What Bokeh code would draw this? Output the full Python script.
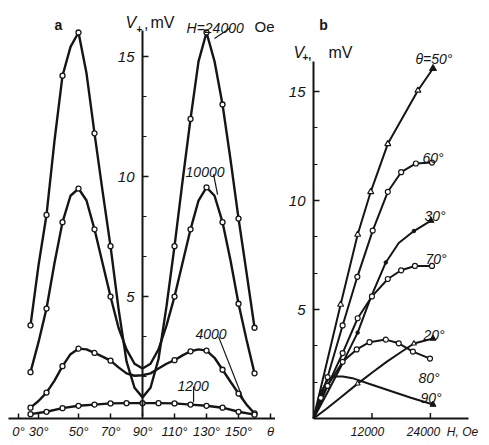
from bokeh.plotting import figure
from bokeh.models import LinearAxis, FixedTicker, Range1d, Label, AllLabels
from bokeh.layouts import row
from bokeh.embed import file_html
from bokeh.resources import INLINE

FONT = "Liberation Sans"
INK = "#151515"

# ---------------- panel a : V+ versus angle theta ----------------
theta_a = [20, 25, 30, 35, 40, 45, 50, 55, 60, 65, 70, 75, 80, 85, 90,
           95, 100, 105, 110, 115, 120, 125, 130, 135, 140, 145, 150, 155, 160]
v_24000 = [3.8, 6.3, 8.4, 11.5, 14.2, 15.4, 16.0, 14.3, 11.8, 9.4, 7.1, 4.5, 2.3, 1.2, 0.8,
           1.2, 2.4, 4.6, 7.1, 9.8, 12.4, 14.8, 16.0, 14.8, 13.0, 10.7, 8.25, 6.0, 3.7]
v_10000 = [1.85, 3.1, 4.5, 6.4, 8.1, 9.2, 9.5, 9.0, 7.8, 6.4, 5.0, 3.7, 2.8, 2.2, 2.0,
           2.2, 2.8, 3.8, 5.0, 6.4, 7.8, 9.0, 9.55, 9.2, 8.1, 6.5, 4.7, 3.2, 1.8]
v_4000 = [0.37, 0.65, 1.0, 1.5, 2.1, 2.6, 2.83, 2.8, 2.65, 2.5, 2.33, 2.05, 1.8, 1.7, 1.72,
          1.8, 2.0, 2.2, 2.35, 2.55, 2.72, 2.8, 2.75, 2.45, 1.95, 1.45, 0.96, 0.5, 0.13]
theta_1200 = [20, 30, 40, 50, 60, 70, 80, 90, 100, 110, 120, 130, 140, 150, 160]
v_1200 = [0.1, 0.2, 0.35, 0.45, 0.5, 0.55, 0.56, 0.56, 0.56, 0.55, 0.5, 0.45, 0.37, 0.2, 0.08]
theta_marks = [20, 30, 40, 50, 60, 70, 110, 120, 130, 140, 150, 160]

a_tick_values = [12.5, 25, 50, 70, 90, 110, 130, 150, 170]
a_tick_labels = ["0°", "30°", "50°", "70°", "90°", "110°", "130°", "150°", "θ"]
v_major_ticks = [5, 10, 15]
v_minor_ticks = [5 / 3 * k for k in range(1, 10)]

# ---------------- panel b : V+ versus field H ----------------
h_50 = [0, 5570, 9070, 11750, 15260, 21440, 24540]
v_50 = [0, 5.23, 8.44, 10.4, 12.6, 15.05, 16.06]
h_60 = [0, 2890, 5980, 9000, 12160, 15260, 18000, 21030, 24330]
v_60 = [0, 1.9, 4.27, 6.5, 8.62, 10.4, 11.3, 11.7, 11.74]
h_30 = [0, 3000, 6000, 9070, 11750, 14850, 17500, 20620, 24120]
v_30 = [0, 1.25, 2.55, 3.94, 5.55, 7.16, 8.05, 8.6, 9.08]
h_70 = [0, 2890, 5980, 9070, 12000, 15260, 18000, 20830, 24330]
v_70 = [0, 1.5, 3.0, 4.6, 5.6, 6.4, 6.8, 7.0, 7.0]
h_20 = [0, 2680, 5500, 9070, 12000, 15000, 18000, 20620, 24540]
v_20 = [0, 0.45, 0.95, 1.6, 2.1, 2.6, 3.05, 3.44, 3.67]
h_80 = [0, 1500, 2890, 5980, 8870, 11500, 14850, 17500, 20410, 23920]
v_80 = [0, 0.95, 1.5, 2.6, 3.17, 3.5, 3.62, 3.45, 3.07, 2.75]
h_90 = [0, 1500, 3000, 4500, 6000, 8000, 12000, 16000, 20000, 24540]
v_90 = [0, 1.2, 1.8, 1.93, 1.93, 1.85, 1.55, 1.25, 0.95, 0.64]

b_tick_values = [12000, 24000]
b_label_values = [11090, 22590, 30600]
b_label_texts = ["12000", "24000", "H, Oe"]


def label(p, x, y, text, size=14, style="italic", align="left"):
    p.add_layout(Label(x=x, y=y, text=text, text_font=FONT,
                       text_font_size=f"{size}px", text_font_style=style,
                       text_align=align, text_baseline="alphabetic",
                       text_color=INK))


def style_axis(ax, size="13px"):
    ax.axis_line_color = INK
    ax.axis_line_width = 2
    ax.major_tick_in = 5
    ax.major_tick_out = 0
    ax.minor_tick_in = 4
    ax.minor_tick_out = 0
    ax.major_tick_line_color = INK
    ax.minor_tick_line_color = INK
    ax.major_tick_line_width = 1.5
    ax.major_label_text_font = FONT
    ax.major_label_text_font_style = "italic"
    ax.major_label_text_font_size = size
    ax.major_label_text_color = INK
    ax.major_label_policy = AllLabels()


# ======================= figure a =======================
pa = figure(frame_width=267, frame_height=410,
            x_range=Range1d(6.25, 173.1), y_range=Range1d(-0.08, 17.0),
            output_backend="svg", toolbar_location=None,
            y_axis_location=None, min_border=0, min_border_left=8,
            min_border_top=8, outline_line_color=None)
pa.grid.visible = False

xa = pa.xaxis[0]
xa.ticker = FixedTicker(ticks=a_tick_values, minor_ticks=[])
xa.major_label_overrides = {v: t for v, t in zip(a_tick_values, a_tick_labels)}
xa.major_label_standoff = 5
style_axis(xa)

ya = LinearAxis(fixed_location=90,
                ticker=FixedTicker(ticks=v_major_ticks, minor_ticks=v_minor_ticks),
                bounds=(0, 16.1), major_label_standoff=8)
style_axis(ya, "15px")
ya.major_tick_in = 6
pa.add_layout(ya, "left")

for vs in (v_24000, v_10000, v_4000):
    pa.line(theta_a, vs, line_color=INK, line_width=2.4)
    mx = [t for t in theta_a if t in theta_marks]
    my = [v for t, v in zip(theta_a, vs) if t in theta_marks]
    pa.scatter(mx, my, marker="circle", size=5, line_color=INK,
               fill_color="white", line_width=1.3)
pa.line(theta_1200, v_1200, line_color=INK, line_width=2.4)
pa.scatter(theta_1200, v_1200, marker="circle", size=5, line_color=INK,
           fill_color="white", line_width=1.3)

# leader lines for the curve labels
pa.line([145, 135], [16.2, 15.75], line_color=INK, line_width=1.2)
pa.line([134.4, 136.9], [10.1, 9.25], line_color=INK, line_width=1.2)
pa.line([137.5, 153], [3.33, 0.7], line_color=INK, line_width=1.2)
pa.line([121.9, 121.9], [1.25, 0.6], line_color=INK, line_width=1.2)

label(pa, 37.5, 16.3, "a", 14, "bold", "center")
label(pa, 79.4, 16.4, "V", 16, "italic")
label(pa, 86.3, 16.15, "+", 10, "bold")
label(pa, 91.0, 16.4, ",", 16, "normal")
label(pa, 95.0, 16.4, "mV", 16, "normal")
label(pa, 117.5, 16.17, "H=24000", 14)
label(pa, 160, 16.25, "Oe", 15, "normal")
label(pa, 116.9, 10.17, "10000", 14)
label(pa, 123.1, 3.46, "4000", 14)
label(pa, 111.9, 1.29, "1200", 14)

# ======================= figure b =======================
pb = figure(frame_width=206, frame_height=410,
            x_range=Range1d(-7803, 34497), y_range=Range1d(0, 18.81),
            output_backend="svg", toolbar_location=None,
            y_axis_location=None, min_border=0, min_border_top=8,
            outline_line_color=None)
pb.grid.visible = False

xb = pb.xaxis[0]
xb.ticker = FixedTicker(ticks=b_label_values, minor_ticks=[])
xb.major_label_overrides = {v: t for v, t in zip(b_label_values, b_label_texts)}
xb.major_label_standoff = 6
xb.bounds = (0, 31900)
style_axis(xb, "12px")
xb.major_tick_line_color = None

# tick marks of the H axis (pointing into the plot)
pb.segment(x0=b_tick_values, y0=[0] * len(b_tick_values),
           x1=b_tick_values, y1=[0.25] * len(b_tick_values),
           line_color=INK, line_width=1.5)

yb = LinearAxis(fixed_location=0,
                ticker=FixedTicker(ticks=v_major_ticks, minor_ticks=v_minor_ticks),
                bounds=(0, 16.4), major_label_standoff=8)
style_axis(yb, "15px")
yb.major_tick_in = 6
pb.add_layout(yb, "left")

curves_b = [(h_50, v_50), (h_60, v_60), (h_30, v_30), (h_70, v_70),
            (h_20, v_20), (h_80, v_80), (h_90, v_90)]
for hs, vs in curves_b:
    pb.line(hs, vs, line_color=INK, line_width=2)

# theta = 50 deg : triangles, last one filled
pb.scatter(h_50[1:-1], v_50[1:-1], marker="triangle", size=6, line_color=INK,
           fill_color="white", line_width=1.2)
pb.scatter(h_50[-1:], v_50[-1:], marker="triangle", size=7, color=INK)
# 60 deg, 70 deg, 80 deg : open circles
for hs, vs in ((h_60, v_60), (h_70, v_70), (h_80, v_80)):
    pb.scatter(hs[1:], vs[1:], marker="circle", size=5, line_color=INK,
               fill_color="white", line_width=1.2)
# 30 deg : small dots, 20 deg and 90 deg : small triangles
pb.scatter(h_30[3::2], v_30[3::2], marker="circle", size=3.5, color=INK)
pb.scatter(h_30[-1:], v_30[-1:], marker="triangle", size=6, color=INK)
pb.scatter(h_20[3::4], v_20[3::4], marker="triangle", size=5, line_color=INK,
           fill_color="white", line_width=1.1)
pb.scatter(h_20[-1:], v_20[-1:], marker="triangle", size=6, color=INK)
pb.scatter(h_90[-1:], v_90[-1:], marker="triangle", size=6, color=INK)

label(pb, 2053, 18.07, "b", 14, "bold", "center")
label(pb, -4107, 16.79, "V", 16, "italic")
label(pb, -2259, 16.6, "+", 10, "bold")
label(pb, -1232, 16.79, ",", 16, "normal")
label(pb, 3080, 16.79, "mV", 16, "normal")
label(pb, 20944, 16.51, "θ=50°", 14)
label(pb, 22382, 11.97, "60°", 14)
label(pb, 22793, 9.31, "30°", 14)
label(pb, 22998, 7.34, "70°", 14)
label(pb, 22587, 3.81, "20°", 14)
label(pb, 21561, 1.88, "80°", 14)
label(pb, 21971, 0.96, "90°", 14)

layout = row(pa, pb)
open("out.html", "w").write(file_html(layout, INLINE))
